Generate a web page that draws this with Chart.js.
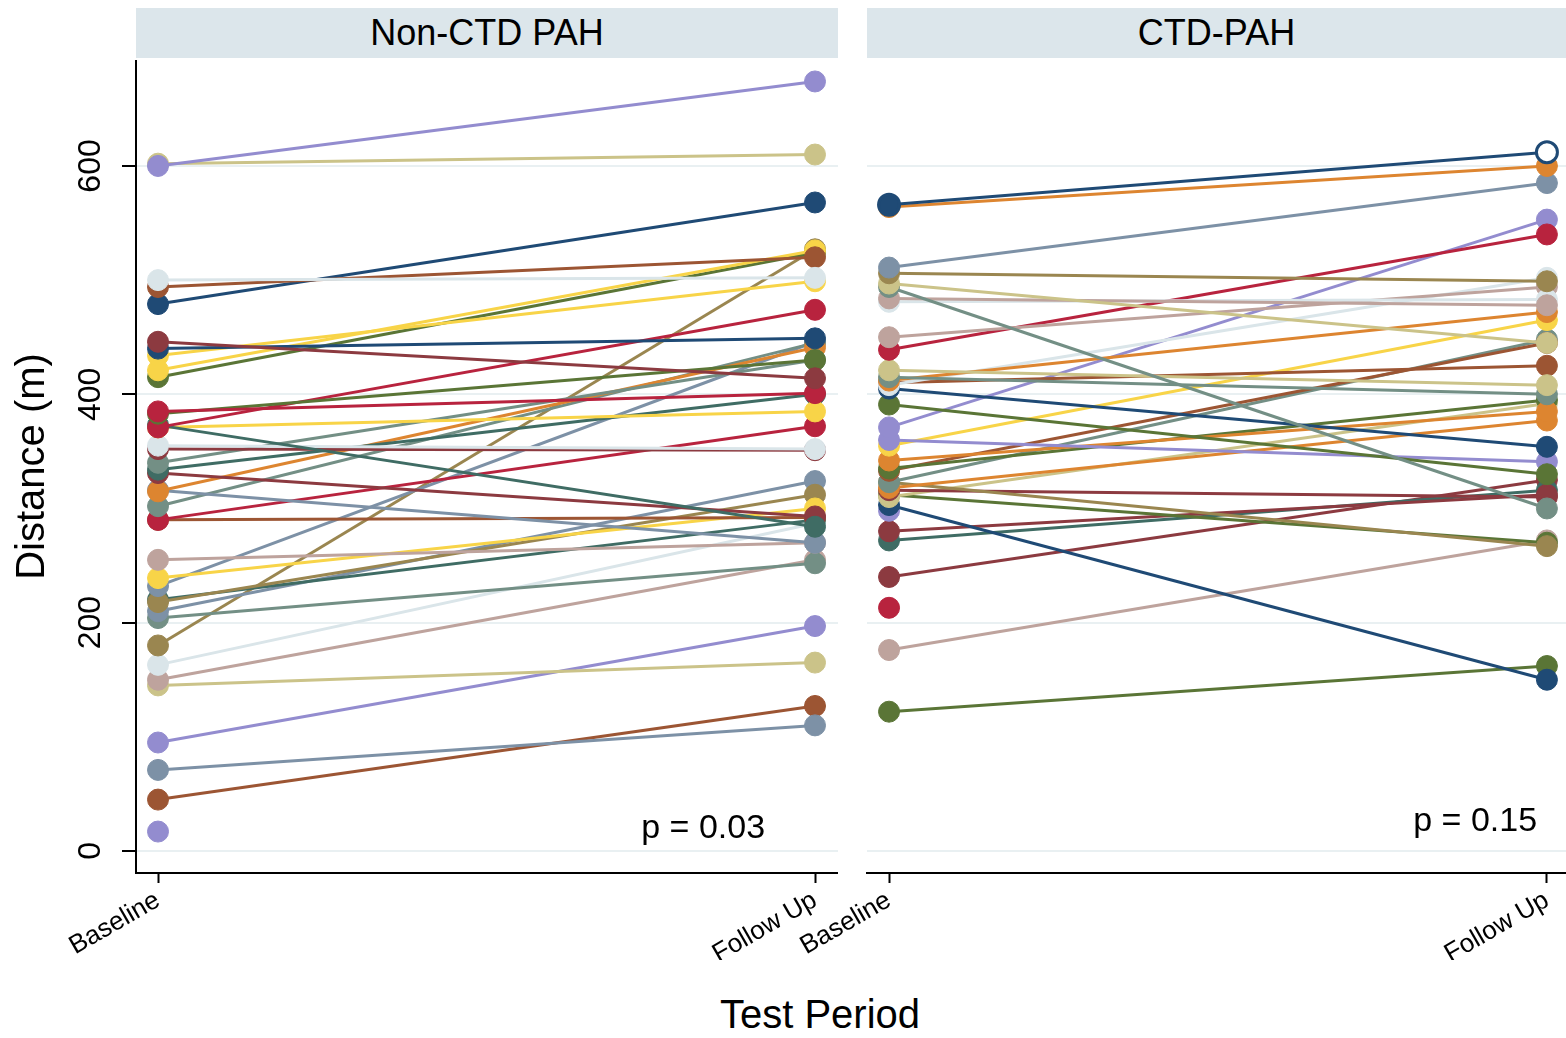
<!DOCTYPE html>
<html>
<head>
<meta charset="utf-8">
<script src="https://cdn.jsdelivr.net/npm/chart.js@4.4.1/dist/chart.umd.min.js"></script>
<style>
  body { margin: 0; background: #fff; width: 1566px; height: 1038px; position: relative; overflow: hidden;
         font-family: "Liberation Sans", Arial, sans-serif; }
  .strip { position: absolute; top: 8px; height: 50px; background: #dce6eb; color: #000;
           font-size: 36px; line-height: 50px; text-align: center; }
  canvas { position: absolute; top: 60px; }
  #xtitle { position: absolute; left: 620px; width: 400px; top: 992px; text-align: center; font-size: 40px; }
</style>
</head>
<body>
<div class="strip" style="left:136px;width:702px">Non-CTD PAH</div>
<div class="strip" style="left:867px;width:699px">CTD-PAH</div>
<canvas id="left" width="838" height="900" style="left:0px"></canvas>
<canvas id="right" width="786" height="900" style="left:780px"></canvas>
<div id="xtitle">Test Period</div>
<script>
// values (metres), one entry per subject
const periods = ["Baseline", "Follow Up"];
const yTicks = [0, 200, 400, 600];
const pValues = ["p = 0.03", "p = 0.15"];

const nonCtdBaseline = [600, 602, 500, 494, 479, 446, 440, 434, 421, 415, 385, 383, 371, 373, 371, 355, 352, 340, 334, 331,
  315, 316, 302, 290, 290, 255, 239, 232, 218, 220, 210, 204, 180, 163, 150, 145, 95, 71, 45, 17];
const nonCtdFollowUp = [674, 610, 502, 520, 568, 414, 449, 499, 526, 524, 401, 430, 474, 284, 385, 352, 351, 430, 400, 293,
  441, 270, 445, 372, 292, 270, 300, 446, 312, 290, 324, 252, 527, 287, 255, 165, 197, 110, 127, null];

const ctdBaseline = [566, 564, 511, 506, 497, 494, 484, 481, 450, 439, 421, 415, 412, 408, 410, 405, 391, 371, 360, 355,
  342, 335, 333, 323, 318, 323, 316, 310, 312, 303, 298, 280, 272, 240, 213, 176, 122];
const ctdFollowUp = [612, 600, 585, 499, 445, 300, 478, 483, 494, 540, 408, 400, 472, 502, 425, 354, 330, 553, 341, 465,
  385, 395, 445, 448, 377, 267, 310, 392, 270, 150, null, 312, 316, 325, null, 272, 162];

// stata-like palette
const P = {
  navy: "#1f4a75", maroon: "#8c3a40", forest: "#5a7536", orange: "#dd8530", teal: "#738f85",
  cranberry: "#b8233e", lavender: "#938ccf", khaki: "#cbc389", sienna: "#9c5533", emidblue: "#7d91a6",
  emerald: "#3f6c64", brown: "#9a8650", erose: "#bea39d", gold: "#f8d448", bluishgray: "#dae5e9"
};
const nonCtdColors = ["lavender", "khaki", "bluishgray", "sienna", "navy", "maroon", "navy", "gold", "gold", "forest",
  "cranberry", "forest", "cranberry", "emerald", "gold", "bluishgray", "maroon", "teal", "emerald", "maroon",
  "orange", "emidblue", "teal", "cranberry", "sienna", "erose", "gold", "emidblue", "brown", "emerald",
  "emidblue", "teal", "brown", "bluishgray", "erose", "khaki", "lavender", "emidblue", "sienna", "lavender"];
const ctdColors = ["navy", "orange", "emidblue", "brown", "khaki", "teal", "erose", "bluishgray", "erose", "cranberry",
  "khaki", "teal", "orange", "bluishgray", "sienna", "navy", "forest", "lavender", "lavender", "gold",
  "orange", "forest", "sienna", "teal", "orange", "brown", "maroon", "khaki", "forest", "navy",
  "lavender", "maroon", "emerald", "maroon", "cranberry", "erose", "forest"];

Chart.defaults.font.family = '"Liberation Sans", Arial, sans-serif';
Chart.defaults.color = "#000";

function buildSets(base, follow, cols, hollow) {
  return base.map((b, i) => {
    const c = P[cols[i]];
    const pts = [{ x: 0, y: b }];
    if (follow[i] !== null) pts.push({ x: 1, y: follow[i] });
    return {
      data: pts,
      borderColor: c,
      backgroundColor: c,
      pointBackgroundColor: i === hollow ? [c, "#fff"] : c,
      pointBorderColor: c,
      pointBorderWidth: i === hollow ? 3 : 1,
      borderWidth: 3,
      pointRadius: 10.5,
      pointHoverRadius: 10.5,
      tension: 0
    };
  });
}

const pLabel = {
  id: "pLabel",
  afterDatasetsDraw(chart, args, opts) {
    const { ctx, scales: { x, y } } = chart;
    ctx.save();
    ctx.font = '34px "Liberation Sans", Arial, sans-serif';
    ctx.fillStyle = "#000";
    ctx.textAlign = "right";
    ctx.textBaseline = "middle";
    ctx.fillText(opts.text, x.getPixelForValue(opts.x), y.getPixelForValue(opts.y));
    ctx.restore();
  }
};

function makeChart(id, datasets, withAxis, pText, px, py, yWidth, xMax) {
  return new Chart(document.getElementById(id), {
    type: "line",
    data: { datasets },
    plugins: [pLabel],
    options: {
      responsive: false,
      animation: false,
      devicePixelRatio: 1,
      layout: { padding: 0, autoPadding: false },
      plugins: {
        legend: { display: false },
        tooltip: { enabled: false },
        pLabel: { text: pText, x: px, y: py }
      },
      scales: {
        x: {
          type: "linear",
          min: -0.0335,
          max: xMax,
          afterBuildTicks: s => { s.ticks = [{ value: 0 }, { value: 1 }]; },
          afterFit: s => { s.height = 87; s.paddingLeft = 0; s.paddingRight = 0; },
          ticks: {
            callback: v => periods[v],
            font: { size: 26 },
            minRotation: 30,
            maxRotation: 30,
            padding: 2,
            autoSkip: false
          },
          grid: { drawOnChartArea: false, tickLength: 10, tickColor: "#000", tickWidth: 2 },
          border: { color: "#000", width: 2 }
        },
        y: {
          min: -19.3,
          max: 692.8,
          afterBuildTicks: s => { s.ticks = yTicks.map(v => ({ value: v })); },
          afterFit: s => { s.width = yWidth; s.paddingTop = 0; s.paddingBottom = 0; },
          ticks: {
            display: withAxis,
            font: { size: 32 },
            minRotation: 90,
            maxRotation: 90,
            crossAlign: "center",
            padding: 4
          },
          grid: { color: "#e9f0f2", lineWidth: 2, drawTicks: withAxis, tickLength: 14, tickColor: "#000", tickWidth: 2 },
          border: { display: withAxis, color: "#000", width: 2 },
          title: { display: withAxis, text: "Distance (m)", font: { size: 40 }, padding: { top: 9, bottom: 0 } }
        }
      }
    }
  });
}

makeChart("left", buildSets(nonCtdBaseline, nonCtdFollowUp, nonCtdColors, -1), true, pValues[0], 0.924, 20, 136, 1.035);
makeChart("right", buildSets(ctdBaseline, ctdFollowUp, ctdColors, 0), false, pValues[1], 0.985, 25.4, 87, 1.029);
</script>
</body>
</html>
